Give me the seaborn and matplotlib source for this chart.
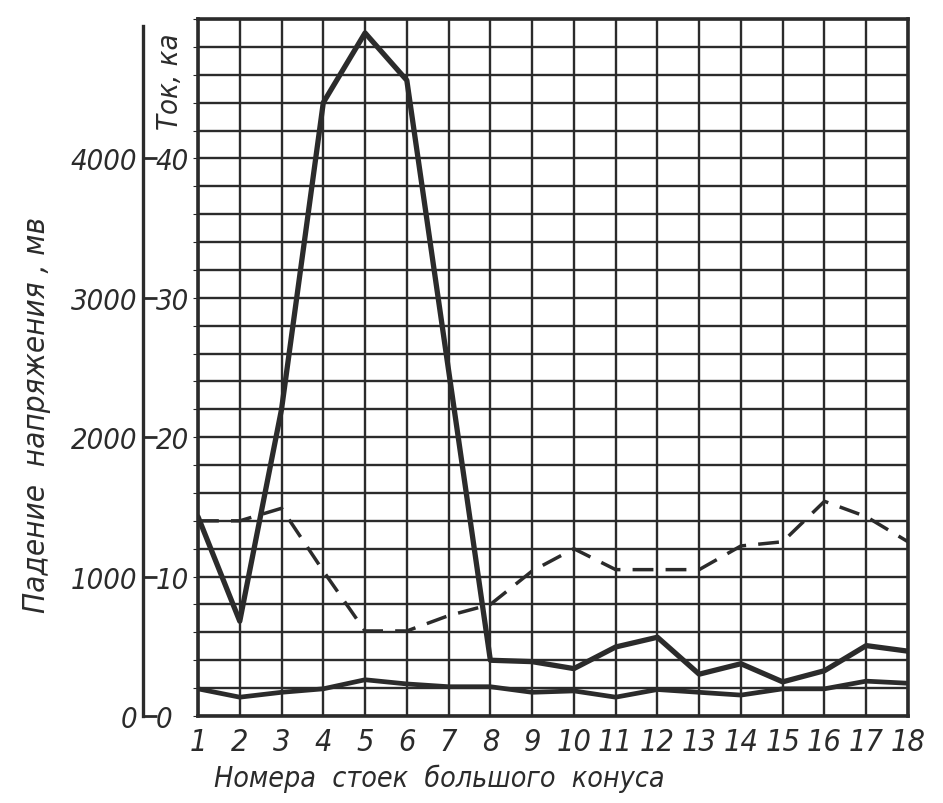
import numpy as np
import pandas as pd
import seaborn as sns
import matplotlib.pyplot as plt

# stand numbers along the big cone
stands = list(range(1, 19))

# voltage drop, mV (heavy solid line with the peak)
drop_peak = [1430, 680, 2200, 4400, 4900, 4560, 2480, 400, 390, 340,
             495, 565, 300, 375, 245, 325, 505, 465]
# voltage drop, mV (low solid line)
drop_low = [195, 135, 170, 195, 260, 230, 210, 210, 170, 180,
            135, 190, 170, 150, 195, 195, 250, 235]
# current, ka (dashed line)
current_ka = [14.0, 14.0, 14.9, 10.4, 6.1, 6.1, 7.2, 8.0, 10.4, 12.0,
              10.5, 10.5, 10.5, 12.2, 12.5, 15.4, 14.3, 12.5]

mv_ticks = [0, 1000, 2000, 3000, 4000]
ka_ticks = [0, 10, 20, 30, 40]

INK = "#2b2b2b"

sns.set_style("white")
plt.rcParams['font.family'] = ['DejaVu Sans']
plt.rcParams['font.style'] = 'italic'
plt.rcParams['font.stretch'] = 'condensed'

W, H = 943, 804
fig = plt.figure(figsize=(W / 100, H / 100), dpi=100)


def box(x0, y0, x1, y1):
    # pixel box (top-left origin) -> figure fraction rect
    return [x0 / W, 1 - y1 / H, (x1 - x0) / W, (y1 - y0) / H]


ax = fig.add_axes(box(198, 20, 908, 717))
df = pd.DataFrame({'stand': stands, 'peak': drop_peak, 'low': drop_low})

# graph paper grid
ax.set_xlim(1, 18)
ax.set_ylim(0, 5000)
ax.set_xticks(stands)
ax.set_yticks(np.arange(0, 5001, 200))
ax.grid(True, color=INK, linewidth=1.7)
ax.set_axisbelow(True)
ax.tick_params(axis='y', left=False, labelleft=False)
ax.tick_params(axis='x', length=0, pad=8, labelsize=22, labelcolor=INK)
for s in ax.spines.values():
    s.set_visible(True)
    s.set_color(INK)
    s.set_linewidth(2.6)

sns.lineplot(data=df, x='stand', y='peak', ax=ax, color=INK,
             linewidth=3.8, zorder=4)
sns.lineplot(data=df, x='stand', y='low', ax=ax, color=INK,
             linewidth=3.4, zorder=4)
ax.set_xlabel('')
ax.set_ylabel('')

# current on its own scale (10 ka = 1000 mV)
axk = ax.twinx()
axk.set_ylim(0, 50)
sns.lineplot(x=stands, y=current_ka, ax=axk, color=INK, linewidth=2.5,
             dashes=(6, 3.5), zorder=4)
axk.set_axis_off()

# detached scale on the left: mV on the left, ka on the right
ax_mv = fig.add_axes(box(143, 27, 153, 717))
ax_mv.set_ylim(0, 5000 * 690 / 697)
ax_mv.set_yticks(mv_ticks)
ax_mv.set_yticklabels([str(v) for v in mv_ticks])
ax_mv.set_xticks([])
ax_mv.patch.set_alpha(0)
for k in ['top', 'right', 'bottom']:
    ax_mv.spines[k].set_visible(False)
ax_mv.spines['left'].set_color(INK)
ax_mv.spines['left'].set_linewidth(2.4)
ax_mv.tick_params(axis='y', direction='in', length=10, width=2,
                  color=INK, pad=4, labelsize=21, labelcolor=INK)

ax_ka = ax_mv.twinx()
ax_ka.set_ylim(0, 50 * 690 / 697)
ax_ka.set_yticks(ka_ticks)
ax_ka.set_yticklabels([str(v) for v in ka_ticks])
for s in ax_ka.spines.values():
    s.set_visible(False)
ax_ka.tick_params(axis='y', length=0, pad=2, labelsize=21, labelcolor=INK)

fig.text(170 / W, 1 - 82 / H, 'Ток, ка', rotation=90, ha='center',
         va='center', fontsize=21, color=INK)
fig.text(37 / W, 1 - 415 / H, 'Падение  напряжения , мв', rotation=90,
         ha='center', va='center', fontsize=22.5, color=INK)
fig.text(439 / W, 1 - 779 / H, 'Номера  стоек  большого  конуса',
         ha='center', va='center', fontsize=20.5, color=INK)

fig.savefig('out.png', dpi=100, facecolor='white')
